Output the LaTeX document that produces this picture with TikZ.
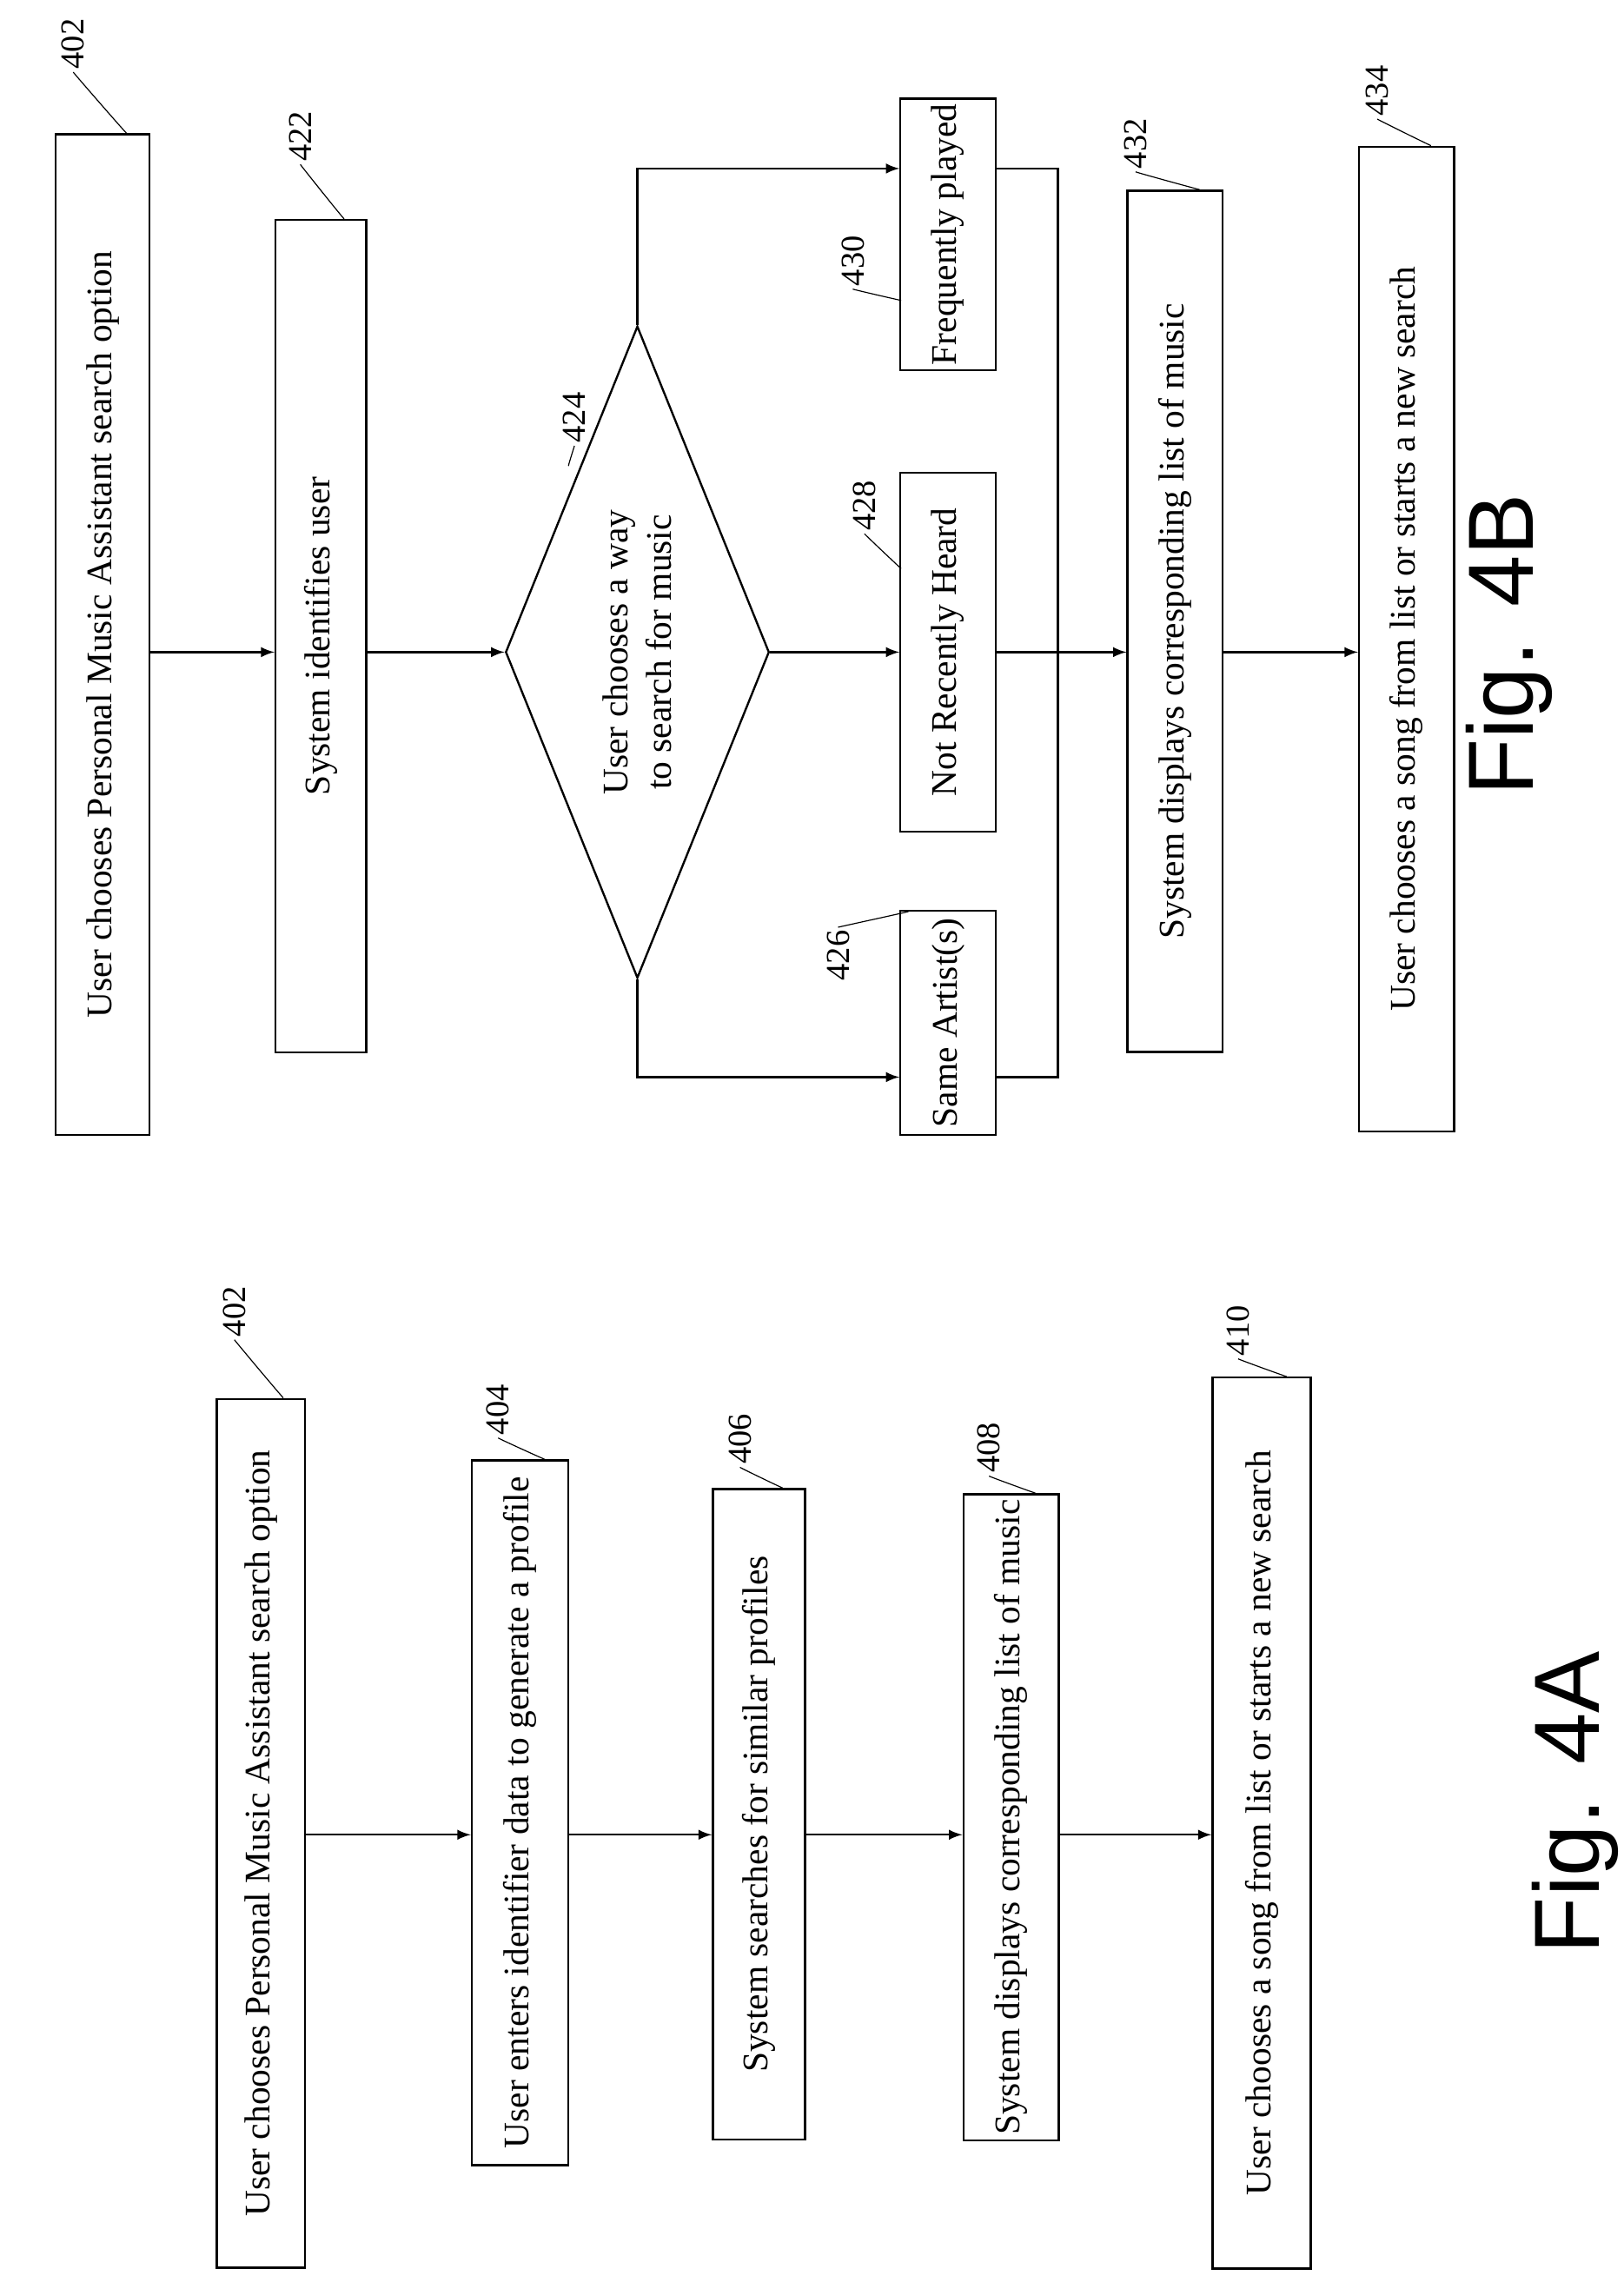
\documentclass[tikz,border=0pt]{standalone}
\usepackage{fontspec}
\setmainfont{Liberation Serif}
\newfontfamily\figfont{Liberation Sans}
\usetikzlibrary{shapes.geometric,calc}
\begin{document}
\begin{tikzpicture}[x=0.02cm,y=-0.02cm,
    box/.style={rectangle,draw,thick,rotate=90,inner sep=2pt,
      font=\fontsize{14}{16}\selectfont},
    dec/.style={diamond,draw,thick,rotate=90,aspect=2.4,inner sep=1pt,align=center,
      font=\fontsize{14}{17}\selectfont},
    num/.style={rotate=90,inner sep=1pt,font=\fontsize{13}{15}\selectfont},
    lead/.style={thin},
    fig/.style={rotate=90,font=\figfont\fontsize{36}{38}\selectfont},
    arr/.style={->,>=latex,thick}]
  \useasboundingbox (0,0) rectangle (1108,1562);
  % Fig. 4A
  \node (a402) at (178,1251) [box,minimum width=11.86cm,minimum height=1.2cm] {User chooses Personal Music Assistant search option};
  \node (a404) at (355,1237) [box,minimum width=9.62cm,minimum height=1.32cm] {User enters identifier data to generate a profile};
  \node (a406) at (518,1238) [box,minimum width=8.88cm,minimum height=1.26cm] {System searches for similar profiles};
  \node (a408) at (690,1240) [box,minimum width=8.8cm,minimum height=1.3cm] {System displays corresponding list of music};
  \node (a410) at (861,1244) [box,minimum width=12.16cm,minimum height=1.34cm] {User chooses a song from list or starts a new search};
  \coordinate (ja) at (0,1252);
  \draw[arr] (a402.south |- ja) -- (a404.north |- ja);
  \draw[arr] (a404.south |- ja) -- (a406.north |- ja);
  \draw[arr] (a406.south |- ja) -- (a408.north |- ja);
  \draw[arr] (a408.south |- ja) -- (a410.north |- ja);
  \node (n402a) at (160,895) [num] {402};
  \node (n404) at (340,962) [num] {404};
  \node (n406) at (505,982) [num] {406};
  \node (n408) at (675,988) [num] {408};
  \node (n410) at (845,908) [num] {410};
  \foreach \n/\b in {n402a/a402,n404/a404,n406/a406,n408/a408,n410/a410}
    \draw[lead] (\n.west) .. controls +(0,0.3) and +(-0.4,0) .. ($(\b.east)!0.5!(\b.south east)$);
  \node (fa) at (1075,1230) [fig] {Fig. 4A};
  % Fig. 4B
  \node (b402) at (70,433) [box,minimum width=13.66cm,minimum height=1.28cm] {User chooses Personal Music Assistant search option};
  \node (b422) at (219,434) [box,minimum width=11.36cm,minimum height=1.24cm] {System identifies user};
  \node (b424) at (435,445) [dec,minimum width=8.9cm,minimum height=3.6cm] {User chooses a way\\to search for music};
  \node (b426) at (647,698) [box,minimum width=3.06cm,minimum height=1.3cm] {Same Artist(s)};
  \node (b428) at (647,445) [box,minimum width=4.9cm,minimum height=1.3cm] {Not Recently Heard};
  \node (b430) at (647,160) [box,minimum width=3.2cm,minimum height=1.3cm] {Frequently played};
  \node (b432) at (802,424) [box,minimum width=11.76cm,minimum height=1.3cm] {System displays corresponding list of music};
  \node (b434) at (960,436) [box,minimum width=13.44cm,minimum height=1.3cm] {User chooses a song from list or starts a new search};
  \coordinate (j) at (722,445);
  \draw[arr] (b402.south |- j) -- (b422.north |- j);
  \draw[arr] (b422.south |- j) -- (b424.north);
  \draw[arr] (b424.south) -- (b428);
  \draw[arr] (b424.east) |- (b430.north |- 0,115);
  \draw[arr] (b424.west) |- (b426.north |- 0,735);
  \draw[thick] (b430.south |- 0,115) -| (j);
  \draw[thick] (b426.south |- 0,735) -| (j);
  \draw[arr] (b428) -- (b432.north |- j);
  \draw[arr] (b432.south |- j) -- (b434.north |- j);
  \node (n402b) at (50,30) [num] {402};
  \node (n422) at (205,93) [num] {422};
  \node (n424) at (392,285) [num] {424};
  \node (n426) at (572,652) [num] {426};
  \node (n428) at (590,345) [num] {428};
  \node (n430) at (582,178) [num] {430};
  \node (n432) at (775,98) [num] {432};
  \node (n434) at (940,62) [num] {434};
  \foreach \n/\b in {n402b/b402,n422/b422,n432/b432,n434/b434}
    \draw[lead] (\n.west) .. controls +(0,0.3) and +(-0.4,0) .. ($(\b.east)!0.5!(\b.south east)$);
  \draw[lead] (n424.west) .. controls +(0,0.4) and +(-0.4,0) .. (388,318);
  \draw[lead] (n426.east) .. controls +(0.2,-0.2) and +(-0.2,0.3) .. (620,622);
  \draw[lead] (n428.west) .. controls +(0,0.3) and +(-0.4,-0.2) .. (615,388);
  \draw[lead] (n430.west) .. controls +(0,0.3) and +(-0.3,0) .. (615,205);
  \node (fb) at (1030,440) [fig] {Fig. 4B};
\end{tikzpicture}
\end{document}
